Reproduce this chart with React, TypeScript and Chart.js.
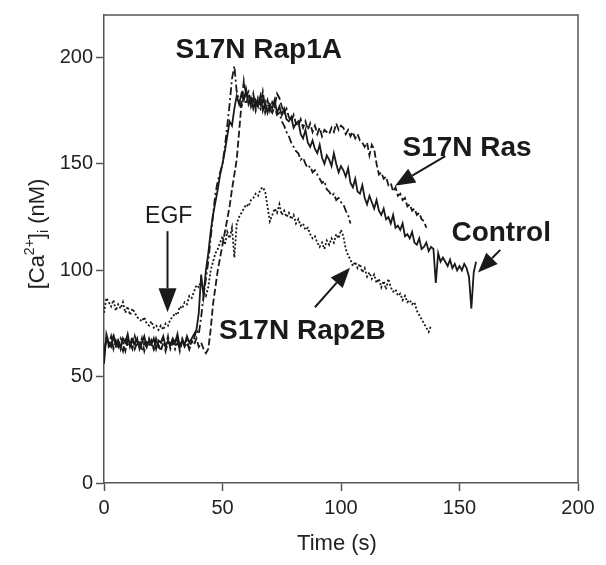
import React, { useEffect, useRef } from "react";
import { Chart, registerables } from "chart.js";

Chart.register(...registerables);

// ---- data (time step = 1 s, starting at t = 0) ----
const controlValues = [
  56, 70, 66, 64, 69, 65, 67, 63, 68, 66, 70, 64, 67, 65, 68, 63, 66, 69, 64, 67,
  65, 68, 63, 67, 66, 69, 64, 67, 65, 68, 66, 70, 64, 67, 65, 69, 66, 68, 70, 72,
  80, 98, 88, 100, 108, 118, 126, 132, 138, 145, 150, 156, 163, 170, 168, 176, 182, 178, 183, 180,
  185, 178, 181, 176, 180, 177, 182, 175, 179, 174, 178, 176, 180, 174, 177, 173, 176, 171, 170, 172,
  167, 169, 170, 164, 162, 166, 160, 158, 161, 157, 155, 159, 153, 150, 154, 152, 149, 155, 150, 146,
  149, 147, 144, 148, 141, 139, 143, 137, 136, 140, 134, 131, 135, 132, 129, 133, 128, 126, 129, 124,
  125, 122, 126, 120, 121, 119, 122, 116, 117, 115, 118, 113, 112, 115, 110, 111, 113, 109, 111, 110,
  94, 108, 104, 106, 104, 102, 105, 101, 103, 100, 102, 100, 103, 101, 97, 82, 99, 104,
];

const rasValues = [
  60, 68, 65, 69, 63, 67, 64, 68, 66, 62, 67, 65, 69, 63, 66, 64, 68, 62, 66, 64,
  67, 63, 68, 65, 62, 66, 64, 69, 63, 66, 65, 68, 62, 67, 64, 66, 63, 67, 65, 68,
  64, 66, 63, 61, 63, 72, 84, 92, 100, 106, 112, 118, 124, 130, 138, 145, 152, 165, 178, 189,
  182, 184, 178, 183, 176, 181, 178, 184, 176, 180, 175, 179, 177, 183, 181, 177, 174, 176, 172, 170,
  173, 169, 168, 171, 167, 170, 166, 169, 165, 168, 164, 167, 163, 166, 165, 164, 167, 165, 169, 166,
  168, 167, 164, 166, 163, 165, 162, 164, 161, 160, 158, 160, 154, 159, 157, 150, 145, 146, 143, 144,
  140, 141, 137, 139, 135, 136, 133, 134, 130, 131, 128, 129, 126, 127, 124, 123, 120,
];

const rap1aValues = [
  62, 67, 64, 66, 70, 63, 67, 65, 62, 68, 64, 66, 63, 69, 65, 67, 62, 66, 64, 68,
  65, 63, 67, 64, 66, 68, 62, 66, 65, 67, 63, 66, 64, 68, 65, 67, 63, 66, 68, 72,
  70, 78, 88, 96, 104, 115, 126, 136, 142, 146, 150, 158, 168, 178, 190, 196, 184, 180, 176, 182,
  178, 183, 177, 181, 175, 179, 176, 180, 174, 178, 176, 174, 177, 173, 174, 170, 168, 165, 163, 160,
  158, 156, 155, 152, 153, 150, 148, 149, 146, 147, 145, 143, 141, 142, 138, 137, 135, 136, 133, 134,
  132, 131, 128, 126, 122,
];

const rap2bValues = [
  80, 87, 85, 83, 86, 81, 84, 82, 85, 80, 83, 79, 82, 80, 78, 77, 76, 78, 75, 74,
  76, 73, 74, 72, 74, 72, 75, 74, 77, 78, 80, 79, 83, 82, 85, 84, 88, 87, 90, 93,
  92, 95, 90, 88, 92, 100, 104, 108, 110, 113, 116, 112, 118, 115, 120, 106, 122, 125, 127, 129,
  131, 130, 133, 134, 136, 135, 138, 139, 137, 130, 123, 126, 129, 127, 131, 126, 128, 125, 127, 124,
  126, 122, 124, 121, 122, 119, 120, 117, 115, 116, 113, 111, 113, 110, 114, 112, 115, 113, 117, 115,
  119, 116, 110, 107, 105, 102, 104, 101, 103, 99, 101, 97, 99, 96, 98, 94, 96, 92, 95, 91,
  96, 92, 90, 91, 88, 89, 86, 88, 85, 86, 84, 85, 81, 79, 77, 75, 73, 71, 74,
];

const xTickValues = [0, 50, 100, 150, 200];
const yTickValues = [0, 50, 100, 150, 200];

// ---- annotations (data units) ----
const labelTexts = ["S17N Rap1A", "S17N Ras", "Control", "S17N Rap2B"];
const labelT = [65.3, 153.2, 167.6, 83.7];
const labelV = [199.6, 153.7, 113.7, 67.8];

const egfText = "EGF";
const egfT = 27.3;
const egfV = 122.1;

// arrows: tail -> tip
const arrowTailT = [26.8, 144.0, 167.2, 89.0];
const arrowTailV = [118.4, 153.7, 109.6, 82.6];
const arrowTipT = [26.8, 122.8, 157.8, 103.8];
const arrowTipV = [80.3, 139.7, 98.9, 101.2];

const FONT = "'Liberation Sans', Arial, Helvetica, sans-serif";
const AXIS_COLOR = "#555555";
const INK = "#1a1a1a";

function toPoints(values: number[]) {
  return values.map((v, i) => ({ x: i, y: v }));
}

const overlayPlugin = {
  id: "overlay",
  afterDraw(chart: any) {
    const { ctx, chartArea: a, scales } = chart;
    const xs = scales.x;
    const ys = scales.y;
    ctx.save();

    // frame top/right
    ctx.strokeStyle = AXIS_COLOR;
    ctx.lineWidth = 1.5;
    ctx.beginPath();
    ctx.moveTo(a.left, a.top);
    ctx.lineTo(a.right, a.top);
    ctx.lineTo(a.right, a.bottom);
    ctx.stroke();

    // bold labels
    ctx.fillStyle = INK;
    ctx.textAlign = "center";
    ctx.textBaseline = "alphabetic";
    ctx.font = `bold 28px ${FONT}`;
    labelTexts.forEach((t, i) => {
      ctx.fillText(t, xs.getPixelForValue(labelT[i]), ys.getPixelForValue(labelV[i]));
    });
    ctx.font = `23px ${FONT}`;
    ctx.fillText(egfText, xs.getPixelForValue(egfT), ys.getPixelForValue(egfV));

    // arrows
    ctx.strokeStyle = INK;
    ctx.fillStyle = INK;
    ctx.lineWidth = 2;
    arrowTailT.forEach((_, i) => {
      const x0 = xs.getPixelForValue(arrowTailT[i]);
      const y0 = ys.getPixelForValue(arrowTailV[i]);
      const x1 = xs.getPixelForValue(arrowTipT[i]);
      const y1 = ys.getPixelForValue(arrowTipV[i]);
      const ang = Math.atan2(y1 - y0, x1 - x0);
      const headLen = i === 0 ? 24 : 20;
      const headW = i === 0 ? 9 : 8;
      const bx = x1 - headLen * Math.cos(ang);
      const by = y1 - headLen * Math.sin(ang);
      ctx.beginPath();
      ctx.moveTo(x0, y0);
      ctx.lineTo(bx, by);
      ctx.stroke();
      ctx.beginPath();
      ctx.moveTo(x1, y1);
      ctx.lineTo(bx + headW * Math.sin(ang), by - headW * Math.cos(ang));
      ctx.lineTo(bx - headW * Math.sin(ang), by + headW * Math.cos(ang));
      ctx.closePath();
      ctx.fill();
    });

    // x title
    ctx.fillStyle = "#222";
    ctx.font = `22px ${FONT}`;
    ctx.textAlign = "center";
    ctx.fillText("Time (s)", (a.left + a.right) / 2 - 4, 550);

    // y title with super/subscript
    ctx.translate(44, 234);
    ctx.rotate(-Math.PI / 2);
    const big = `22px ${FONT}`;
    const small = `14px ${FONT}`;
    const parts: [string, string, number][] = [
      ["[Ca", big, 0],
      ["2+", small, -10],
      ["]", big, 0],
      ["i", small, 4],
      [" (nM)", big, 0],
    ];
    let total = 0;
    parts.forEach(([s, f]) => {
      ctx.font = f;
      total += ctx.measureText(s).width;
    });
    let cx = -total / 2;
    ctx.textAlign = "left";
    parts.forEach(([s, f, dy]) => {
      ctx.font = f;
      ctx.fillText(s, cx, dy);
      cx += ctx.measureText(s).width;
    });
    ctx.restore();
  },
};

export default function App() {
  const ref = useRef<HTMLCanvasElement | null>(null);

  useEffect(() => {
    if (!ref.current) return;
    const lineBase = {
      borderColor: INK,
      borderWidth: 1.8,
      pointRadius: 0,
      fill: false,
      tension: 0,
    };
    const chart = new Chart(ref.current, {
      type: "line",
      data: {
        datasets: [
          { ...lineBase, label: "Control", data: toPoints(controlValues) },
          { ...lineBase, label: "S17N Ras", data: toPoints(rasValues), borderDash: [7, 3] },
          { ...lineBase, label: "S17N Rap1A", data: toPoints(rap1aValues), borderDash: [8, 3, 2, 3] },
          { ...lineBase, label: "S17N Rap2B", data: toPoints(rap2bValues), borderDash: [2, 2] },
        ],
      },
      options: {
        animation: false,
        responsive: false,
        maintainAspectRatio: false,
        layout: { padding: { left: 0, right: 28, top: 8, bottom: 0 } },
        plugins: {
          legend: { display: false },
          tooltip: { enabled: false },
          title: { display: false },
        },
        scales: {
          x: {
            type: "linear",
            min: 0,
            max: 200,
            afterBuildTicks: (s: any) => {
              s.ticks = xTickValues.map((v) => ({ value: v }));
            },
            afterFit: (s: any) => {
              s.height = 82;
            },
            ticks: {
              color: "#222",
              font: { family: FONT, size: 20 },
              padding: 5,
              maxRotation: 0,
            },
            grid: {
              drawOnChartArea: false,
              drawTicks: true,
              tickLength: 8,
              tickColor: AXIS_COLOR,
              tickWidth: 1.5,
            },
            border: { display: true, color: AXIS_COLOR, width: 1.5 },
          },
          y: {
            type: "linear",
            min: 0,
            max: 220,
            afterBuildTicks: (s: any) => {
              s.ticks = yTickValues.map((v) => ({ value: v }));
            },
            afterFit: (s: any) => {
              s.width = 104;
            },
            ticks: {
              color: "#222",
              font: { family: FONT, size: 20 },
              padding: 3,
            },
            grid: {
              drawOnChartArea: false,
              drawTicks: true,
              tickLength: 8,
              tickColor: AXIS_COLOR,
              tickWidth: 1.5,
            },
            border: { display: true, color: AXIS_COLOR, width: 1.5 },
          },
        },
      },
      plugins: [overlayPlugin],
    } as any);
    return () => chart.destroy();
  }, []);

  return (
    <div style={{ position: "absolute", left: 0, top: 0, width: 606, height: 565, background: "#fff" }}>
      <canvas ref={ref} width={606} height={565} style={{ display: "block" }} />
    </div>
  );
}
